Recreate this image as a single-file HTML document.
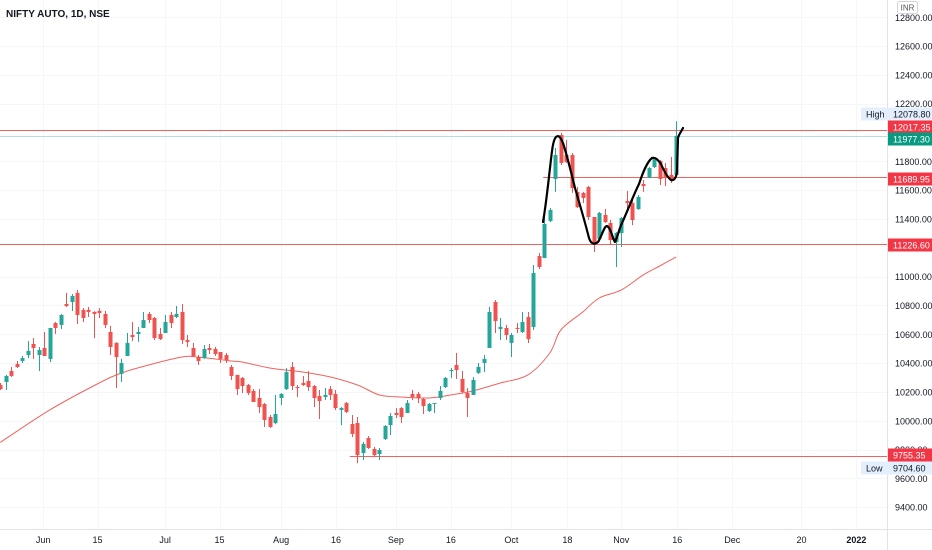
<!DOCTYPE html>
<html><head><meta charset="utf-8">
<style>
html,body{margin:0;padding:0;background:#fff;}
svg{display:block;font-family:"Liberation Sans",sans-serif;}
</style></head>
<body>
<svg id="chart" width="932" height="550" viewBox="0 0 932 550" xmlns="http://www.w3.org/2000/svg">
<rect x="0" y="0" width="932" height="550" fill="#ffffff"/>
<g id="grid"></g>
<g id="hlines"></g>
<path id="ma" fill="none" stroke="#f0625d" stroke-width="1"/>
<g id="candles"></g>
<path fill="none" stroke="#000" stroke-width="2.2" stroke-linejoin="round" stroke-linecap="round"
 d="M543,222 C546,205 548,185 550,168 C552,150 553,140 556,137 C558,135 560,136 563,143 C567,155 571,172 575,188 C580,205 585,222 589,238 C591,244 594,245 598,242 C602,236 604,226 607,226 C611,228 613,240 615,242 C618,236 619,229 622,223 C628,210 633,196 639,184 C643,172 647,162 652,158 C656,157 658,160 661,164 C664,171 667,177 671,180 C674,181 676,178 677,172 L678,138 C679,134 681,132 683,128"/>
<line x1="887.5" y1="0" x2="887.5" y2="550" stroke="#e0e3eb"/>
<line x1="0" y1="529.5" x2="932" y2="529.5" stroke="#e0e3eb"/>
<g id="yticks"></g>
<g id="xticks"></g>
<g id="labels"></g>
<text x="6" y="17" font-size="10" font-weight="bold" fill="#131722">NIFTY AUTO, 1D, NSE</text>
<rect x="897.5" y="1.5" width="20" height="12" rx="2" fill="#fff" stroke="#d1d4dc"/>
<text x="907.5" y="10.5" font-size="8" fill="#555" text-anchor="middle">INR</text>
</svg>
<script>
const opens  = [10248,10269,10345,10394,10415,10456,10533,10456,10505,10429,10678,10665,10810,10824,10887,10769,10769,10755,10762,10741,10616,10540,10325,10449,10595,10602,10644,10741,10713,10602,10609,10734,10720,10755,10560,10505,10442,10435,10505,10498,10477,10456,10373,10318,10297,10248,10207,10158,10116,10026,9984,10158,10220,10373,10234,10262,10276,10241,10172,10165,10220,10186,10075,10123,9977,9984,9776,9880,9804,9769,9873,9970,10054,10088,10054,10186,10186,10151,10068,10116,10158,10234,10345,10387,10290,10193,10179,10332,10401,10505,10824,10637,10644,10540,10644,10616,10720,10651,11143,11129,11386,11678,11983,11844,11844,11588,11581,11622,11414,11261,11428,11372,11241,11303,11525,11511,11469,11643,11685,11761,11803,11754,11706,11706];
const highs  = [10262,10318,10373,10415,10449,10553,10574,10512,10616,10644,10685,10741,10887,10880,10907,10782,10789,10760,10782,10762,10658,10545,10429,10609,10685,10651,10755,10755,10720,10644,10734,10755,10796,10810,10595,10540,10456,10526,10533,10512,10477,10470,10387,10318,10304,10255,10220,10220,10123,10040,10179,10193,10366,10408,10248,10311,10345,10248,10213,10227,10241,10213,10095,10130,10040,10026,9853,9894,9818,9811,9970,10054,10088,10095,10144,10213,10200,10158,10123,10123,10241,10304,10366,10470,10345,10227,10304,10401,10456,10789,10838,10713,10665,10609,10678,10755,10755,11081,11164,11435,11476,11893,11997,11948,11858,11622,11588,11629,11414,11449,11470,11393,11310,11414,11595,11532,11567,11671,11761,11830,11810,11789,11830,12079];
const lows   = [10213,10213,10304,10366,10401,10435,10429,10345,10449,10408,10602,10637,10789,10762,10671,10685,10720,10574,10713,10644,10456,10227,10269,10449,10553,10547,10644,10678,10560,10560,10609,10644,10713,10533,10512,10442,10387,10429,10463,10449,10401,10401,10283,10179,10193,10179,10130,10054,9957,9950,9977,10109,10213,10213,10165,10241,10207,10095,10012,10144,10144,10075,9970,10054,9887,9705,9728,9804,9748,9728,9866,9901,10019,9984,10054,10144,10123,10047,10061,10054,10144,10227,10297,10290,10193,10026,10179,10325,10338,10505,10609,10560,10560,10442,10609,10609,10540,10630,11053,11129,11379,11588,11775,11789,11581,11476,11511,11393,11171,11241,11372,11220,11067,11206,11449,11358,11463,11588,11685,11754,11636,11629,11650,11692];
const closes = [10220,10311,10311,10373,10435,10484,10505,10491,10449,10644,10644,10734,10796,10866,10734,10713,10755,10741,10748,10665,10512,10442,10401,10540,10581,10616,10699,10699,10574,10567,10685,10678,10741,10560,10547,10449,10415,10498,10491,10463,10429,10422,10311,10220,10241,10193,10130,10095,10005,9957,10047,10186,10338,10241,10227,10248,10234,10158,10137,10179,10179,10088,10088,10061,9908,9762,9839,9811,9762,9797,9964,10033,10040,10026,10123,10165,10158,10102,10116,10123,10207,10297,10352,10352,10200,10158,10283,10373,10429,10755,10692,10651,10595,10595,10637,10685,10567,11025,11067,11365,11463,11844,11789,11796,11615,11483,11546,11414,11220,11442,11379,11254,11303,11407,11511,11393,11553,11629,11754,11816,11678,11692,11671,11977];
const maIndex  = [0,9,18,22,27,33,36,42,44,49,55,60,65,69,73,78,82,86,91,96,100,102,106,109,113,117,120,123];
const maValues = [9850,10075,10262,10331,10387,10442,10442,10415,10408,10366,10338,10304,10248,10179,10165,10158,10179,10207,10262,10318,10470,10630,10755,10852,10907,11012,11074,11137];
const priceTicks = [12800,12600,12400,12200,11800,11600,11400,11000,10800,10600,10400,10200,10000,9800,9600,9400];
const timeTickIdx = [7.8,17.7,30,39.9,51.1,61.1,72,82,93,103.2,113,123.2,133.2,145.8,155.8];
const timeTickLabels = ["Jun","15","Jul","15","Aug","16","Sep","16","Oct","18","Nov","16","Dec","20","2022"];
const levelPrices = [12017.35,11977.30,11689.95,11226.60,9755.35];
const levelStartIdx = [-2,-2,98.8,-2,63.6];

const NS="http://www.w3.org/2000/svg";
const X0=0.3, STEP=5.495;
function xs(i){return X0+i*STEP;}
function ys(p){return 244-(p-11226.6)*0.1441;}
function mk(tag,attrs,parent){const e=document.createElementNS(NS,tag);for(const k in attrs)e.setAttribute(k,attrs[k]);parent.appendChild(e);return e;}

const grid=document.getElementById('grid');
for(let k=0;k<priceTicks.length;k++){
  const y=Math.round(ys(priceTicks[k]))+0.5;
  const l=mk('line',{x1:0,x2:887,y1:y,y2:y,stroke:'#f5f6f9'},grid);
  
  
}
for(let k=0;k<timeTickIdx.length;k++){
  const x=Math.round(xs(timeTickIdx[k]))+0.5;
  const l=mk('line',{x1:x,x2:x,y1:0,y2:529,stroke:'#f5f6f9'},grid);
  
  
}

const hl=document.getElementById('hlines');
for(let k=0;k<levelPrices.length;k++){
  const y=Math.round(ys(levelPrices[k]))+0.5;
  const col = k===1 ? '#b2dfdb' : '#f0625d';
  const l=mk('line',{x1:Math.max(0,xs(levelStartIdx[k])),x2:887,y1:y,y2:y,stroke:col,'stroke-width':1},hl);
  
  
}

// smooth MA path (Catmull-Rom through the read points)
const pts=maIndex.map((v,k)=>[xs(v),ys(maValues[k])]);
let d='M'+pts[0][0].toFixed(1)+','+pts[0][1].toFixed(1);
for(let k=0;k<pts.length-1;k++){
  const p0=pts[Math.max(0,k-1)],p1=pts[k],p2=pts[k+1],p3=pts[Math.min(pts.length-1,k+2)];
  const c1=[p1[0]+(p2[0]-p0[0])/6,p1[1]+(p2[1]-p0[1])/6];
  const c2=[p2[0]-(p3[0]-p1[0])/6,p2[1]-(p3[1]-p1[1])/6];
  d+='C'+c1[0].toFixed(1)+','+c1[1].toFixed(1)+' '+c2[0].toFixed(1)+','+c2[1].toFixed(1)+' '+p2[0].toFixed(1)+','+p2[1].toFixed(1);
}
document.getElementById('ma').setAttribute('d',d);

const cg=document.getElementById('candles');
for(let i=0;i<opens.length;i++){
  const up=closes[i]>=opens[i];
  const col=up?'#26a69a':'#ef5350';
  const x=Math.round(xs(i));
  const w=mk('line',{x1:x+0.5,x2:x+0.5,y1:ys(highs[i]),y2:ys(lows[i]),stroke:col,'stroke-width':1},cg);
  
  
  const top=ys(Math.max(opens[i],closes[i])), bot=ys(Math.min(opens[i],closes[i]));
  const b=mk('rect',{x:x-1.5,y:top,width:4,height:Math.max(1,bot-top),fill:col},cg);
  
  
}

const yt=document.getElementById('yticks');
for(let k=0;k<priceTicks.length;k++){
  const t=mk('text',{x:895,y:ys(priceTicks[k])+3.5,'font-size':9,fill:'#131722'},yt);
  t.textContent=priceTicks[k].toFixed(2);
  
  
}
const xt=document.getElementById('xticks');
for(let k=0;k<timeTickIdx.length;k++){
  const t=mk('text',{x:xs(timeTickIdx[k]),y:543,'font-size':9,fill:'#131722','text-anchor':'middle'},xt);
  if(timeTickLabels[k]==='2022') t.setAttribute('font-weight','bold');
  t.textContent=timeTickLabels[k];
  
  
}

const lg=document.getElementById('labels');
function badge(cy,text,bg,fg,name,extra){
  const r=mk('rect',{x:888,y:cy-6.5,width:44,height:13,fill:bg},lg);
  
  
  const t=mk('text',{x:893,y:cy+3.5,'font-size':9,fill:fg},lg);
  t.textContent=text;
  
  
  if(extra){
    const r2=mk('rect',{x:861,y:cy-6.5,width:27,height:13,fill:bg},lg);
    
    
    const t2=mk('text',{x:866,y:cy+3.5,'font-size':9,fill:'#131722'},lg);
    t2.textContent=extra;
    
    
  }
}
badge(114,'12078.80','#e3effd','#131722','high-price-label','High');
badge(127,'12017.35','#f23645','#ffffff','level-label-12017');
badge(139,'11977.30','#089981','#ffffff','last-price-label');
badge(179,'11689.95','#f23645','#ffffff','level-label-11689');
badge(245,'11226.60','#f23645','#ffffff','level-label-11226');
badge(455,'9755.35','#f23645','#ffffff','level-label-9755');
badge(468,'9704.60','#e3effd','#131722','low-price-label','Low');
</script>
</body></html>
